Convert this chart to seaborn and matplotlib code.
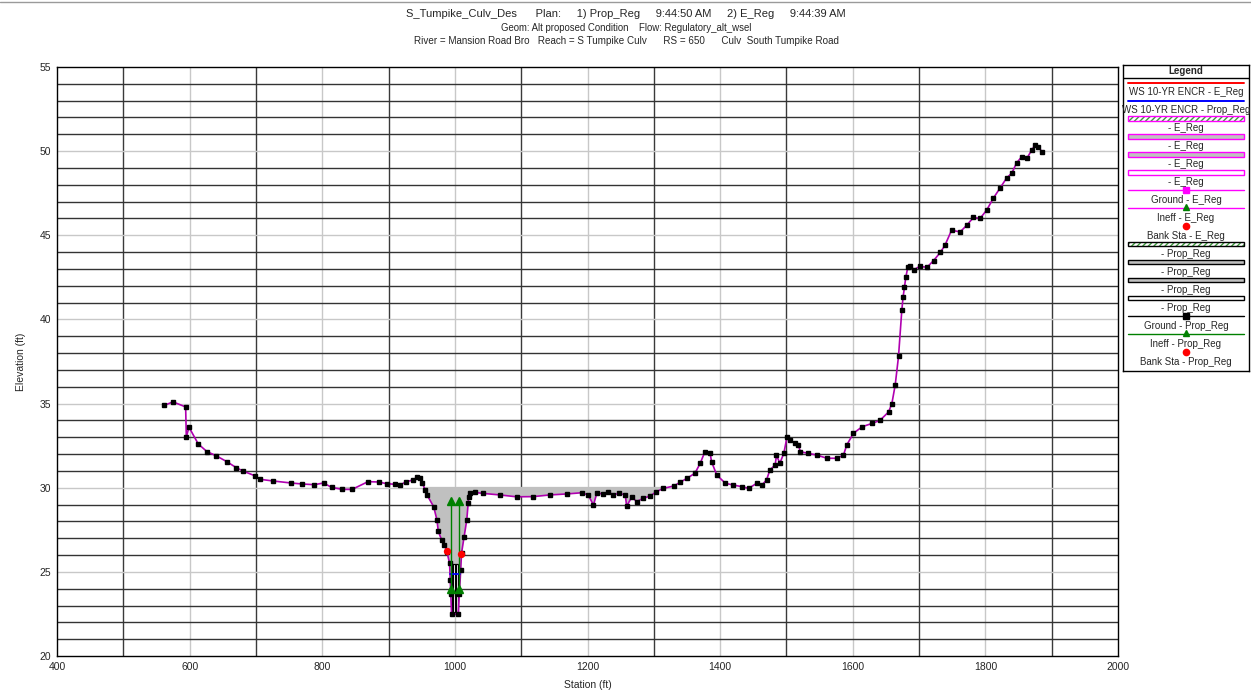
import numpy as np
import pandas as pd
import matplotlib
matplotlib.use('Agg')
import matplotlib.pyplot as plt
from matplotlib.patches import Rectangle
from matplotlib.lines import Line2D
import seaborn as sns

### Data
station = [562, 575, 594, 595, 599, 613, 626, 640, 656, 670, 680, 699, 706, 726, 753, 770, 788, 802,
           814, 830, 845, 869, 885, 897, 910, 918, 927, 937, 943, 947, 951, 955, 958, 968, 973, 975,
           980, 984, 988, 992, 993, 993.7, 995, 1005, 1006.8, 1008.8, 1010, 1014, 1018, 1020, 1021,
           1023, 1030, 1043, 1068, 1093, 1118, 1143, 1169, 1191, 1201, 1209, 1214, 1224, 1231, 1239,
           1247, 1257, 1259, 1267, 1274, 1284, 1294, 1304, 1314, 1330, 1340, 1350, 1362, 1370, 1377,
           1385, 1387, 1395, 1408, 1420, 1433, 1443, 1455, 1463, 1470, 1475, 1483, 1485, 1490, 1496,
           1501, 1506, 1513, 1518, 1521, 1533, 1546, 1561, 1576, 1586, 1591, 1601, 1614, 1629, 1641,
           1654, 1659, 1664, 1669, 1674, 1676, 1678, 1680, 1683, 1687, 1692, 1701, 1712, 1722, 1732,
           1739, 1749, 1762, 1772, 1782, 1792, 1802, 1812, 1822, 1832, 1840, 1847, 1855, 1863, 1870,
           1875, 1880, 1885]
elevation = [34.9, 35.1, 34.8, 33.0, 33.6, 32.6, 32.15, 31.9, 31.55, 31.2, 31.0, 30.7, 30.5, 30.4,
             30.28, 30.22, 30.18, 30.28, 30.02, 29.9, 29.9, 30.36, 30.34, 30.24, 30.2, 30.18, 30.36,
             30.46, 30.62, 30.56, 30.3, 29.86, 29.57, 28.87, 28.08, 27.4, 26.9, 26.6, 26.2, 25.5, 24.5,
             23.7, 22.5, 22.5, 23.7, 25.1, 26.1, 27.1, 28.1, 29.07, 29.46, 29.66, 29.72, 29.66, 29.57,
             29.46, 29.47, 29.57, 29.63, 29.7, 29.57, 28.97, 29.67, 29.63, 29.76, 29.57, 29.67, 29.57,
             28.9, 29.46, 29.17, 29.37, 29.5, 29.76, 29.96, 30.1, 30.33, 30.56, 30.86, 31.45, 32.14,
             32.04, 31.55, 30.75, 30.26, 30.16, 30.06, 29.96, 30.26, 30.16, 30.46, 31.05, 31.35, 31.94,
             31.45, 32.04, 33.03, 32.83, 32.64, 32.54, 32.14, 32.04, 31.94, 31.75, 31.75, 31.94, 32.54,
             33.23, 33.62, 33.82, 34.0, 34.5, 35.0, 36.1, 37.8, 40.56, 41.35, 41.95, 42.5, 43.1, 43.2,
             42.95, 43.15, 43.1, 43.5, 43.98, 44.4, 45.3, 45.2, 45.6, 46.06, 46.0, 46.5, 47.2, 47.8,
             48.4, 48.7, 49.3, 49.67, 49.6, 50.07, 50.37, 50.27, 49.97]

fill_level = 30.05          # top of the grey area
fill_range = [800, 1320]

ws_prop_sta = [992, 1008]   # WS 10-YR ENCR - Prop_Reg
ws_prop_elev = 24.85

ineff_sta = [993.6, 1005.6]
ineff_low = 24.0
ineff_high = 29.2

bank_sta = [988.8, 1009.6]
bank_elev = [26.24, 26.06]

culv_left, culv_right = 995, 1005
culv_invert, culv_top = 22.5, 25.45
culv_walls = [997.6, 1000.0, 1002.4]

title_lines = [
    'S_Tumpike_Culv_Des      Plan:     1) Prop_Reg     9:44:50 AM     2) E_Reg     9:44:39 AM',
    'Geom: Alt proposed Condition    Flow: Regulatory_alt_wsel',
    'River = Mansion Road Bro   Reach = S Tumpike Culv      RS = 650      Culv  South Tumpike Road',
]

legend_items = [
    ('line', 'red', None, None, 'WS 10-YR ENCR - E_Reg'),
    ('line', 'blue', None, None, 'WS 10-YR ENCR - Prop_Reg'),
    ('hatch', 'white', 'magenta', None, '- E_Reg'),
    ('patch', '#c0c0c0', 'magenta', None, '- E_Reg'),
    ('patch', '#c0c0c0', 'magenta', None, '- E_Reg'),
    ('patch', 'white', 'magenta', None, '- E_Reg'),
    ('linemark', 'magenta', 'magenta', 's', 'Ground - E_Reg'),
    ('linemark', 'magenta', 'green', '^', 'Ineff - E_Reg'),
    ('mark', None, 'red', 'o', 'Bank Sta - E_Reg'),
    ('hatch', 'white', 'black', None, '- Prop_Reg'),
    ('patch', '#c0c0c0', 'black', None, '- Prop_Reg'),
    ('patch', '#c0c0c0', 'black', None, '- Prop_Reg'),
    ('patch', 'white', 'black', None, '- Prop_Reg'),
    ('linemark', 'black', 'black', 's', 'Ground - Prop_Reg'),
    ('linemark', 'green', 'green', '^', 'Ineff - Prop_Reg'),
    ('mark', None, 'red', 'o', 'Bank Sta - Prop_Reg'),
]

ground = pd.DataFrame({'station': station, 'elevation': elevation})

sns.set_style('white')
plt.rcParams['font.family'] = ['Liberation Sans', 'DejaVu Sans']

W, H = 1251, 690
fig = plt.figure(figsize=(W / 100, H / 100), dpi=100)
ax = fig.add_axes([57 / W, 1 - 656 / H, (1118 - 57) / W, (656 - 67) / H])

# thin rule across the top of the page
fig.add_artist(Line2D([0, 1], [1 - 1.5 / H, 1 - 1.5 / H], color='#9a9a9a', lw=1.0))

# grid, the HEC-RAS way (alternating dark / light lines)
for xv in range(500, 2000, 100):
    ax.axvline(xv, color='#3a3a3a' if xv % 200 else '#c8c8c8', lw=1.0, zorder=0)
for yv in range(21, 55):
    ax.axhline(yv, color='#c8c8c8' if yv % 5 == 0 else '#333333', lw=1.0, zorder=0)

# grey area under the water line
st = np.array(station, dtype=float)
el = np.array(elevation, dtype=float)
mask = (st >= fill_range[0]) & (st <= fill_range[1])
ax.fill_between(st[mask], el[mask], fill_level, where=el[mask] < fill_level,
                interpolate=True, color='#c0c0c0', zorder=1, lw=0)

# culvert barrels
ax.add_patch(Rectangle((culv_left, culv_invert), culv_right - culv_left, culv_top - culv_invert,
                       facecolor='white', edgecolor='black', lw=0.9, zorder=2))
for cw in culv_walls:
    ax.plot([cw, cw], [culv_invert, culv_top], color='black', lw=0.8, zorder=2)

# ground line
sns.lineplot(data=ground, x='station', y='elevation', sort=False, ax=ax,
             color='#b000b0', lw=1.2, zorder=3)
ax.plot(ground.station, ground.elevation, ls='none', marker='s', ms=3.3,
        color='black', zorder=4)

# ws line
ax.plot(ws_prop_sta, [ws_prop_elev] * 2, color='blue', lw=1.3, zorder=5)

# ineffective flow markers
for s in ineff_sta:
    ax.plot([s, s], [ineff_low, ineff_high], color='green', lw=1.0, zorder=5)
    ax.plot([s, s], [ineff_low, ineff_high], ls='none', marker='^', ms=6,
            color='green', zorder=6)

# bank stations
sns.scatterplot(x=bank_sta, y=bank_elev, color='red', s=28, ax=ax, zorder=7, linewidth=0)

ax.set_xlim(400, 2000)
ax.set_ylim(20, 55)
ax.set_xticks(range(400, 2001, 200))
ax.set_yticks(range(20, 56, 5))
ax.tick_params(labelsize=7.5, length=0, pad=4)
ax.set_xlabel('Station (ft)', fontsize=7.5, labelpad=6)
ax.set_ylabel('Elevation (ft)', fontsize=7.5, labelpad=10)
for sp in ax.spines.values():
    sp.set_color('black')
    sp.set_linewidth(1.0)

# titles
fig.text(626 / W, 1 - 14 / H, title_lines[0], ha='center', va='center', fontsize=8)
fig.text(626 / W, 1 - 28 / H, title_lines[1], ha='center', va='center', fontsize=6.9)
fig.text(626 / W, 1 - 41 / H, title_lines[2], ha='center', va='center', fontsize=7.1)

# legend box (built by hand, symbol above label)
lx0, lx1, ly0, ly1 = 1123, 1249, 65, 371
lax = fig.add_axes([lx0 / W, 1 - ly1 / H, (lx1 - lx0) / W, (ly1 - ly0) / H])
lax.set_xlim(lx0, lx1)
lax.set_ylim(ly1, ly0)
lax.set_xticks([])
lax.set_yticks([])
for sp in lax.spines.values():
    sp.set_color('black')
    sp.set_linewidth(1.0)
lax.text((lx0 + lx1) / 2, 71, 'Legend', ha='center', va='center', fontsize=7, fontweight='bold')
lax.plot([lx0, lx1], [77.5, 77.5], color='black', lw=1.0)

sx0, sx1 = 1128, 1244
xc = (sx0 + sx1) / 2
step = 17.95
for i, (kind, c1, c2, mk, label) in enumerate(legend_items):
    sy = 82.7 + step * i
    ty = 92.3 + step * i
    if kind == 'line':
        lax.plot([sx0, sx1], [sy, sy], color=c1, lw=1.4)
    elif kind == 'patch':
        lax.add_patch(Rectangle((sx0, sy - 2.2), sx1 - sx0, 4.4, facecolor=c1,
                                edgecolor=c2, lw=1.0))
    elif kind == 'hatch':
        lax.add_patch(Rectangle((sx0, sy - 2.2), sx1 - sx0, 4.4, facecolor='white',
                                edgecolor='#3a9a3a', hatch='//////', lw=0))
        lax.add_patch(Rectangle((sx0, sy - 2.2), sx1 - sx0, 4.4, fill=False,
                                edgecolor=c2, lw=1.0))
    elif kind == 'linemark':
        lax.plot([sx0, sx1], [sy, sy], color=c1, lw=1.0)
        lax.plot([xc], [sy - (1.5 if mk == '^' else 0)], marker=mk, ms=4.5, color=c2, ls='none')
    elif kind == 'mark':
        lax.plot([xc], [sy], marker=mk, ms=4.5, color=c2, ls='none')
    lax.text(xc, ty, label, ha='center', va='center', fontsize=7)

fig.savefig('out.png', dpi=100)
